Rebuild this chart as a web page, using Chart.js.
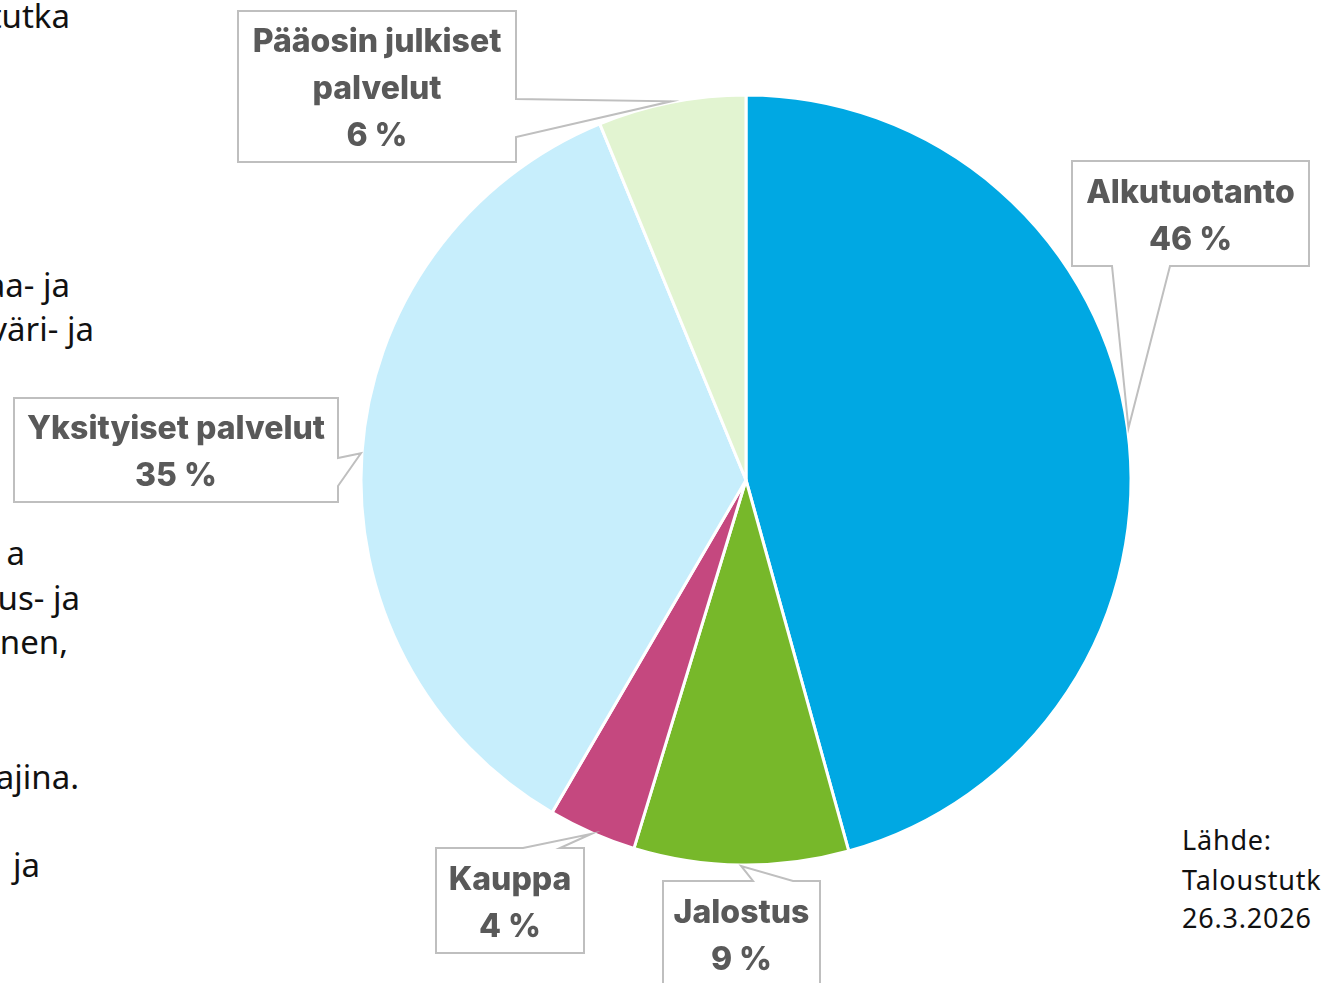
<!DOCTYPE html>
<html>
<head>
<meta charset="utf-8">
<script src="https://cdn.jsdelivr.net/npm/chart.js@4.4.1/dist/chart.umd.min.js"></script>
<style>
  html, body { margin: 0; padding: 0; background: #fff; overflow: hidden; }
  #wrap { position: relative; width: 1322px; height: 983px; }
  canvas { position: absolute; left: 0; top: 0; }
  .bg { position: absolute; font-family: "Noto Sans", sans-serif; font-size: 33px; color: #111;
        white-space: nowrap; transform: translate(-100%, -50%); line-height: 1; }
  .src { position: absolute; left: 1182px; font-family: "Noto Sans", sans-serif; font-size: 27px;
         letter-spacing: 0.8px; color: #111; white-space: nowrap; transform: translateY(-50%); line-height: 1; }
</style>
</head>
<body>
<div id="wrap">
  <div class="bg" style="left:70px;top:15px">Taloustutka</div>
  <div class="bg" style="left:70px;top:284px">maa- ja</div>
  <div class="bg" style="left:94px;top:328px">väri- ja</div>
  <div class="bg" style="left:25px;top:552px">a</div>
  <div class="bg" style="left:80px;top:597px">palvelus- ja</div>
  <div class="bg" style="left:68px;top:641px">toiminen,</div>
  <div class="bg" style="left:79px;top:776px">tuottajina.</div>
  <div class="bg" style="left:40px;top:864px">ja</div>
  <div class="src" style="top:839px">Lähde:</div>
  <div class="src" style="top:879px">Taloustutkimus</div>
  <div class="src" style="top:917px">26.3.2026</div>
  <canvas id="chart" width="1322" height="983"></canvas>
</div>
<script>
// Osuudet (%)
const categories = ['Alkutuotanto', 'Jalostus', 'Kauppa', 'Yksityiset palvelut', 'Pääosin julkiset palvelut'];
const shares = [45.7, 9.0, 3.7, 35.4, 6.2];
const colors = ['#00a8e3', '#77b82a', '#c5487f', '#c7eefc', '#e2f4d1'];

// callout boxes: [left, top, right, bottom], side of the pointer, pointer base coords on that side
const callouts = [
  { box: [1072, 161, 1309, 266], side: 'bottom', base: [1112, 1170] },
  { box: [663, 881, 820, 986], side: 'top', base: [753, 793] },
  { box: [436, 848, 584, 953], side: 'top', base: [523, 560] },
  { box: [14, 398, 338, 502], side: 'right', base: [458, 486] },
  { box: [238, 11, 516, 162], side: 'right', base: [99, 137] }
];

const labelFont = '800 32px Inter, "Open Sans", sans-serif';

function wrap(ctx, text, maxW) {
  const words = text.split(' ');
  const lines = [];
  let cur = '';
  words.forEach(w => {
    const t = cur ? cur + ' ' + w : w;
    if (cur && ctx.measureText(t).width > maxW) { lines.push(cur); cur = w; }
    else cur = t;
  });
  lines.push(cur);
  return lines;
}

const calloutPlugin = {
  id: 'callouts',
  afterDatasetsDraw(chart) {
    const ctx = chart.ctx;
    const arcs = chart.getDatasetMeta(0).data;
    ctx.save();
    ctx.font = labelFont;
    arcs.forEach((arc, i) => {
      const c = callouts[i];
      if (!c) return;
      const p = arc.getProps(['x', 'y', 'startAngle', 'endAngle', 'outerRadius'], true);
      const mid = (p.startAngle + p.endAngle) / 2;
      const tx = p.x + Math.cos(mid) * (p.outerRadius + 1);
      const ty = p.y + Math.sin(mid) * (p.outerRadius + 1);
      const [l, t, r, b] = c.box;
      const pts = [[l, t]];
      if (c.side === 'top') pts.push([c.base[0], t], [tx, ty], [c.base[1], t]);
      pts.push([r, t]);
      if (c.side === 'right') pts.push([r, c.base[0]], [tx, ty], [r, c.base[1]]);
      pts.push([r, b]);
      if (c.side === 'bottom') pts.push([c.base[1], b], [tx, ty], [c.base[0], b]);
      pts.push([l, b]);

      ctx.beginPath();
      pts.forEach((q, k) => k ? ctx.lineTo(q[0], q[1]) : ctx.moveTo(q[0], q[1]));
      ctx.closePath();
      ctx.fillStyle = '#ffffff';
      ctx.fill();
      ctx.lineWidth = 2;
      ctx.strokeStyle = '#bfbfbf';
      ctx.lineJoin = 'miter';
      ctx.stroke();

      const lines = wrap(ctx, categories[i], r - l - 10);
      lines.push(Math.round(shares[i]) + ' %');
      const lh = 47;
      const cy = (t + b) / 2 + 3;
      ctx.fillStyle = '#595959';
      ctx.textAlign = 'center';
      ctx.textBaseline = 'middle';
      lines.forEach((s, k) => {
        ctx.fillText(s, (l + r) / 2, cy + (k - (lines.length - 1) / 2) * lh);
      });
    });
    ctx.restore();
  }
};

new Chart(document.getElementById('chart'), {
  type: 'pie',
  data: {
    labels: categories,
    datasets: [{
      data: shares,
      backgroundColor: colors,
      borderColor: '#ffffff',
      borderWidth: 3,
      hoverOffset: 0
    }]
  },
  options: {
    responsive: false,
    animation: false,
    radius: 385,
    layout: { padding: { left: 170, right: 0, top: 0, bottom: 23 } },
    plugins: {
      legend: { display: false },
      tooltip: { enabled: false }
    }
  },
  plugins: [calloutPlugin]
});
</script>
</body>
</html>
